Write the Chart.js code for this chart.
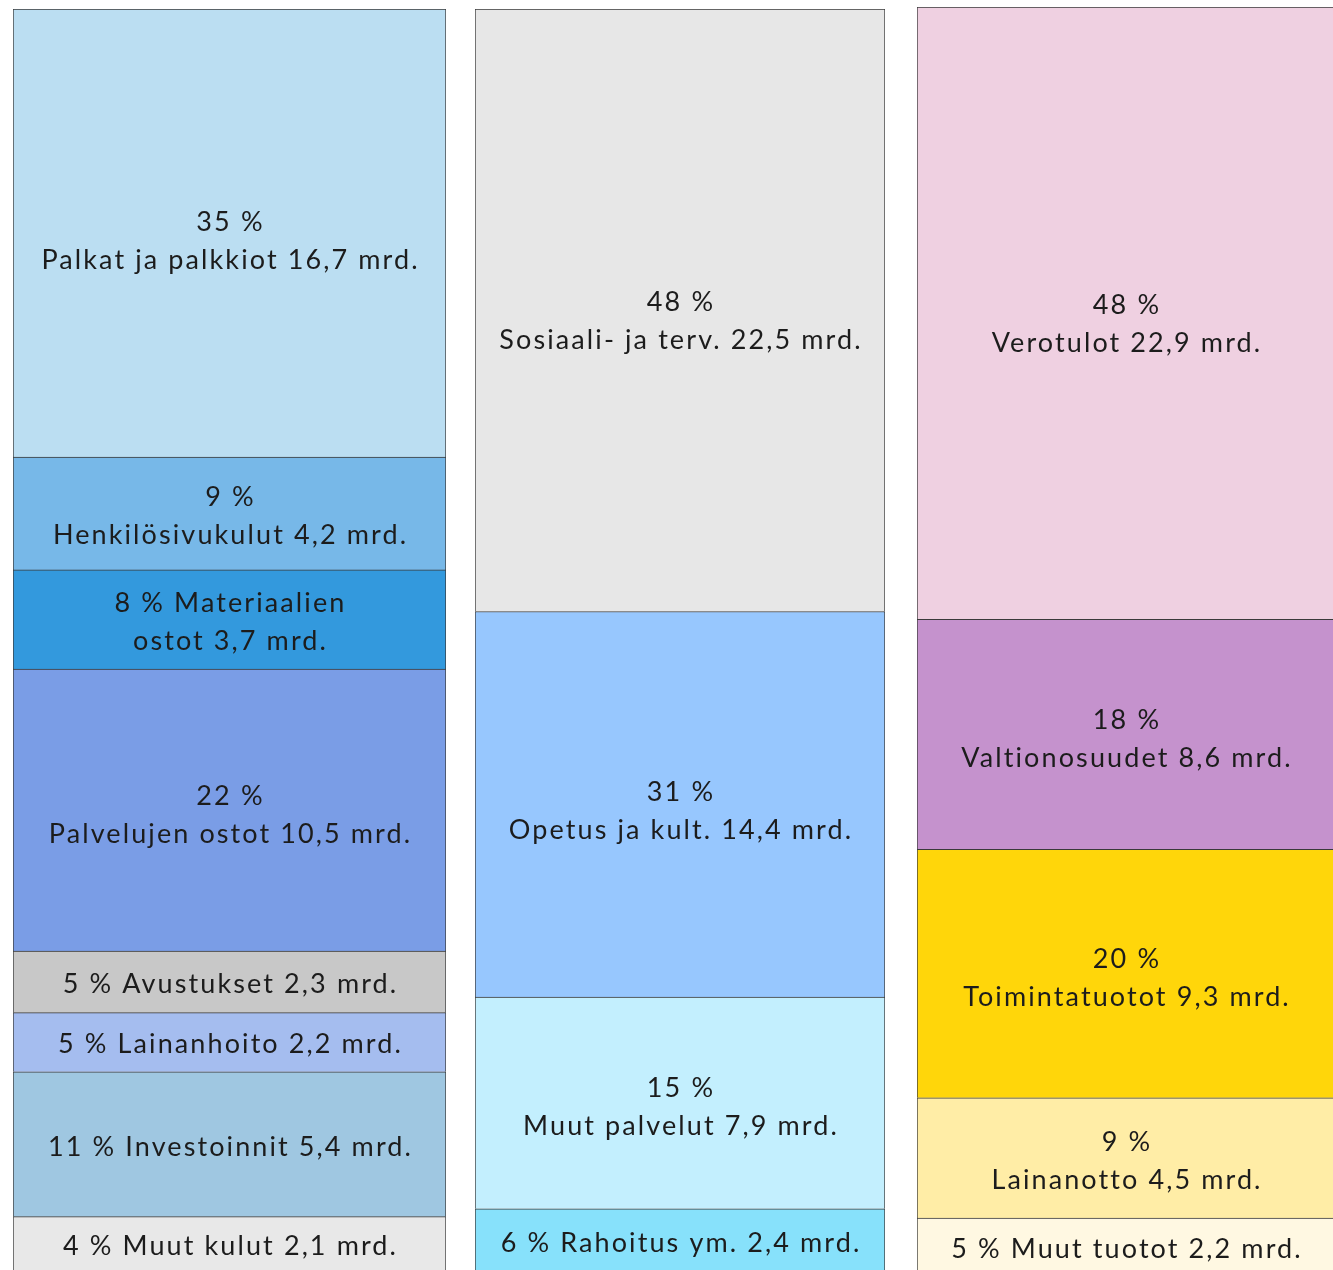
<!DOCTYPE html>
<html>
<head>
<meta charset="utf-8">
<script src="https://cdn.jsdelivr.net/npm/chart.js@4"></script>
<style>
    html, body { margin: 0; padding: 0; background: #ffffff; overflow: hidden; }
    .col { position: absolute; }
</style>
</head>
<body>
<canvas id="kulut" class="col" width="433" height="1264" style="left:13px; top:9px;"></canvas>
<canvas id="kaytto" class="col" width="410" height="1264" style="left:475px; top:9px;"></canvas>
<canvas id="tulot" class="col" width="418" height="1270" style="left:917px; top:7px;"></canvas>
<script>
// menot lajeittain (mrd. €), ylhäältä alas
const kulutValues = [16.7, 4.2, 3.7, 10.5, 2.3, 2.2, 5.4, 2.1];
const kulutColors = ["#bbdef2", "#77b8e8", "#3399dd", "#7a9de6", "#c8c8c8", "#a5bdef", "#9fc7e1", "#e8e8e8"];
const kulutText = [
    ["35 %", "Palkat ja palkkiot 16,7 mrd."],
    ["9 %", "Henkilösivukulut 4,2 mrd."],
    ["8 % Materiaalien", "ostot 3,7 mrd."],
    ["22 %", "Palvelujen ostot 10,5 mrd."],
    ["5 % Avustukset 2,3 mrd."],
    ["5 % Lainanhoito 2,2 mrd."],
    ["11 % Investoinnit 5,4 mrd."],
    ["4 % Muut kulut 2,1 mrd."],
];

// menot tehtävittäin
const kayttoValues = [22.5, 14.4, 7.9, 2.4];
const kayttoColors = ["#e7e7e7", "#97c7fe", "#c3effe", "#87e1fb"];
const kayttoText = [
    ["48 %", "Sosiaali- ja terv. 22,5 mrd."],
    ["31 %", "Opetus ja kult. 14,4 mrd."],
    ["15 %", "Muut palvelut 7,9 mrd."],
    ["6 % Rahoitus ym. 2,4 mrd."],
];

// tulot
const tulotValues = [22.9, 8.6, 9.3, 4.5, 2.2];
const tulotColors = ["#efd0e1", "#c592cd", "#ffd60a", "#ffeda6", "#fff8e2"];
const tulotText = [
    ["48 %", "Verotulot 22,9 mrd."],
    ["18 %", "Valtionosuudet 8,6 mrd."],
    ["20 %", "Toimintatuotot 9,3 mrd."],
    ["9 %", "Lainanotto 4,5 mrd."],
    ["5 % Muut tuotot 2,2 mrd."],
];

const segmentLabels = {
    id: "segmentLabels",
    afterDatasetsDraw(chart) {
        const ctx = chart.ctx;
        ctx.save();
        ctx.font = "27px Lato";
        ctx.letterSpacing = "2.1px";
        ctx.fillStyle = "#1c1c1c";
        ctx.textAlign = "center";
        ctx.textBaseline = "middle";
        chart.data.datasets.forEach((ds, i) => {
            const bar = chart.getDatasetMeta(i).data[0];
            if (!bar) return;
            const h = Math.abs(bar.base - bar.y);
            // excel puts the text a bit below the middle on tall boxes
            const cy = (bar.y + bar.base) / 2 + 1 + h * 0.016;
            const lines = ds.text;
            const gap = 38;
            lines.forEach((line, j) => {
                const y = cy + (j - (lines.length - 1) / 2) * gap;
                ctx.fillText(line, bar.x + 1, y);
            });
        });
        ctx.restore();
    },
};

function makeColumn(canvasId, values, colors, texts) {
    const total = values.reduce((a, b) => a + b, 0);
    // stack from the bottom up, so the first item ends up on top
    const datasets = values
        .map((v, i) => ({
            data: [v],
            backgroundColor: colors[i],
            borderColor: "#3a3a3a",
            borderWidth: 1,
            text: texts[i],
        }))
        .reverse();

    return new Chart(document.getElementById(canvasId), {
        type: "bar",
        data: { labels: [""], datasets: datasets },
        options: {
            responsive: false,
            animation: false,
            barPercentage: 1,
            categoryPercentage: 1,
            layout: { padding: 0 },
            plugins: {
                legend: { display: false },
                tooltip: { enabled: false },
            },
            scales: {
                x: { stacked: true, display: false },
                y: { stacked: true, display: false, min: 0, max: total },
            },
        },
        plugins: [segmentLabels],
    });
}

makeColumn("kulut", kulutValues, kulutColors, kulutText);
makeColumn("kaytto", kayttoValues, kayttoColors, kayttoText);
makeColumn("tulot", tulotValues, tulotColors, tulotText);
</script>
</body>
</html>
